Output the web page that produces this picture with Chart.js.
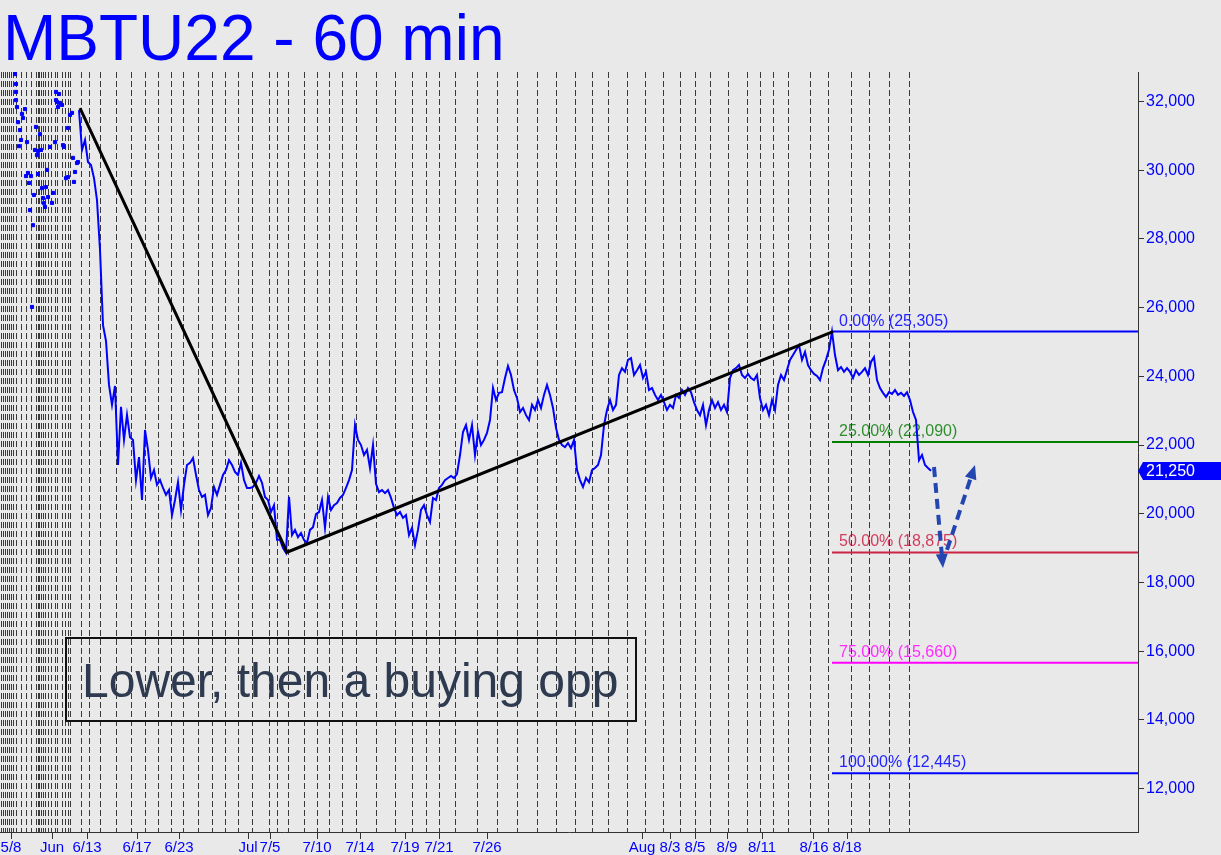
<!DOCTYPE html>
<html>
<head>
<meta charset="utf-8">
<script src="https://cdn.jsdelivr.net/npm/chart.js@4"></script>
<style>
  html, body { margin: 0; padding: 0; background: #e9e9e9; }
  canvas { display: block; }
</style>
</head>
<body>
<canvas id="chart" width="1221" height="855"></canvas>
<script>
const titleText = 'MBTU22 - 60 min';
const noteText = 'Lower, then a buying opp';

// x is counted in bar slots along the time axis
const xMax = 1138;
const xLabels = ['5/8', 'Jun', '6/13', '6/17', '6/23', 'Jul', '7/5', '7/10', '7/14', '7/19', '7/21', '7/26', 'Aug', '8/3', '8/5', '8/9', '8/11', '8/16', '8/18'];
const xLabelAt = [11, 52, 87, 137, 179, 248, 270, 317, 360, 405, 439, 487, 642, 670, 695, 727, 762, 814, 847];
const yTicks = [12000, 14000, 16000, 18000, 20000, 22000, 24000, 26000, 28000, 30000, 32000];
const sessionBreaks = [1, 3, 5, 7, 9, 11, 13, 16, 21, 26, 31, 36, 38, 39, 41, 43, 45, 48, 51, 55, 57, 62, 65, 68, 70, 81, 89, 100, 116, 131, 145, 158, 171, 183, 198, 212, 225, 238, 252, 269, 277, 288, 304, 317, 329, 342, 356, 376, 395, 412, 426, 439, 455, 477, 497, 517, 537, 556, 575, 592, 608, 627, 645, 663, 680, 695, 710, 728, 747, 760, 773, 788, 810, 828, 851, 869, 889, 909];

// thin early trading: scattered prints
const sparseX = [15, 16, 16, 16, 17, 18, 20, 21, 19, 22, 23, 25, 27, 28, 26, 29, 31, 30, 33, 32, 34, 35, 36, 37, 38, 38, 40, 41, 42, 43, 44, 45, 46, 47, 48, 50, 52, 53, 55, 56, 56, 57, 59, 60, 62, 58, 63, 64, 66, 68, 70, 72, 68, 73, 74, 75, 77, 78];
const sparsePrice = [32800, 32510, 32280, 32040, 31840, 31400, 31170, 30880, 30700, 31640, 31520, 31780, 30820, 29920, 29830, 29630, 29830, 28840, 28400, 26020, 29280, 30590, 31260, 30440, 30560, 29890, 31050, 30590, 29480, 29190, 29040, 28930, 29510, 30010, 29220, 30680, 29050, 29340, 30820, 32280, 32040, 31990, 32220, 31960, 31900, 31840, 30730, 30680, 29770, 29800, 31610, 31670, 31230, 30360, 29660, 29950, 30210, 30240];

// hourly closes from bar 79, one every 3 slots
const priceStart = 79;
const priceStep = 3;
const prices = [
  31750, 30590, 30880, 30240, 30150, 29770, 29130, 27680, 25490, 25030,
  23750, 23170, 23720, 21420, 23110, 22150, 22880, 22230, 22150, 20980,
  21650, 20400, 22440, 21860, 21040, 21270, 20840, 20980, 20750, 20550,
  20690, 19960, 20400, 20920, 20110, 20840, 21420, 21480, 21620, 21130,
  20690, 20490, 20550, 19960, 20170, 20780, 20550, 20840, 21130, 21270,
  21560, 21420, 21220, 21130, 21480, 20980, 20750, 20750, 20780, 20900,
  21100, 20900, 20490, 20400, 20050, 20250, 19240, 19240, 19000, 18860,
  20490, 19380, 19530, 19320, 19440, 19240, 19150, 19530, 19610, 19990,
  20050, 20400, 19590, 20490, 20110, 20250, 20310, 20460, 20550, 20750,
  20980, 21270, 22580, 22150, 22000, 21710, 21860, 21330, 22000, 20870,
  20630, 20690, 20600, 20690, 20460, 20170, 19960, 20050, 19880, 19960,
  19380, 19590, 19090, 19530, 20110, 20250, 19960, 19760, 20460, 20400,
  20750, 20840, 20980, 21040, 21100, 21040, 21160, 21710, 22380, 22580,
  22150, 22580, 21710, 22380, 22000, 22150, 22350, 22730, 23660, 23310,
  23520, 23540, 23950, 24300, 24040, 23600, 23370, 22960, 23080, 22870,
  22730, 23170, 23020, 23310, 23080, 23460, 23750, 23460, 23080, 22500,
  22150, 22000, 21940, 22060, 21910, 22150, 21270, 20980, 20780, 21040,
  20920, 21270, 21330, 21420, 21710, 22580, 23020, 23310, 23020, 23170,
  24040, 24240, 24130, 24480, 24530, 24040, 24180, 24330, 23950, 24130,
  23600, 23660, 23460, 23310, 23460, 23250, 23020, 23170, 23080, 23460,
  23370, 23600, 23460, 23660, 23540, 23250, 23020, 22870, 23170, 22580,
  23020, 23310, 23080, 23250, 23020, 23170, 22960, 23950, 24180, 24240,
  24330, 24040, 23950, 24070, 23950, 23890, 24040, 23370, 23020, 23170,
  22870, 23310, 23020, 23750, 24040, 23890, 24180, 24480, 24620, 24770,
  24910, 24480, 24710, 24330, 24180, 24070, 24010, 23890, 24240, 24480,
  24770, 25300, 24620, 24180, 24270, 24130, 24240, 24130, 23950, 24180,
  24040, 24130, 24240, 24040, 24420, 24560, 23890, 23660, 23520, 23400,
  23540, 23490, 23600, 23460, 23520, 23430, 23540, 23310, 22960, 22730,
  21560, 21710, 21420, 21330, 21250
];
const lastPrice = 21250;

// swing high -> low -> high
const swingX = [80, 287, 833];
const swingPrice = [31810, 18880, 25305];

const fibPct = ['0.00%', '25.00%', '50.00%', '75.00%', '100.00%'];
const fibLevels = [25305, 22090, 18875, 15660, 12445];
const fibColors = ['#0000ff', '#008000', '#cc2444', '#ff00ff', '#0000ff'];
const fibTextColors = ['#2424ff', '#2f8f2f', '#d23c5c', '#ff2cff', '#2424ff'];
const fibFromX = 832;

// forecast arrows
const arrowFromX = [934, 947];
const arrowFromPrice = [21360, 18945];
const arrowToX = [943, 975];
const arrowToPrice = [18420, 21420];

const font = '"Liberation Sans", Arial, sans-serif';

function drawArrow(c, x0, y0, x1, y1) {
  const ang = Math.atan2(y1 - y0, x1 - x0);
  const head = 14, half = 6;
  const bx = x1 - head * Math.cos(ang), by = y1 - head * Math.sin(ang);
  c.setLineDash([10, 6]);
  c.lineWidth = 4;
  c.beginPath(); c.moveTo(x0, y0); c.lineTo(bx, by); c.stroke();
  c.setLineDash([]);
  c.beginPath();
  c.moveTo(x1, y1);
  c.lineTo(bx + half * Math.sin(ang), by - half * Math.cos(ang));
  c.lineTo(bx - half * Math.sin(ang), by + half * Math.cos(ang));
  c.closePath(); c.fill();
}

const overlay = {
  id: 'overlay',
  beforeDraw(chart) {
    const c = chart.ctx;
    c.save();
    c.fillStyle = '#e9e9e9';
    c.fillRect(0, 0, chart.width, chart.height);
    c.restore();
  },
  beforeDatasetsDraw(chart) {
    const c = chart.ctx, a = chart.chartArea, x = chart.scales.x, y = chart.scales.y;
    c.save();
    c.font = '16px ' + font;
    c.textBaseline = 'alphabetic';
    fibLevels.forEach((lv, i) => {
      c.fillStyle = fibTextColors[i];
      c.fillText(fibPct[i] + ' (' + lv.toLocaleString('en-US') + ')', x.getPixelForValue(fibFromX) + 7, y.getPixelForValue(lv) - 6);
    });
    c.strokeStyle = '#3a3a3a';
    c.lineWidth = 1;
    c.setLineDash([6, 3]);
    sessionBreaks.forEach(b => {
      const px = Math.round(x.getPixelForValue(b)) + 0.5;
      c.beginPath(); c.moveTo(px, a.top); c.lineTo(px, a.bottom); c.stroke();
    });
    c.restore();
  },
  afterDraw(chart) {
    const c = chart.ctx, a = chart.chartArea, x = chart.scales.x, y = chart.scales.y;
    c.save();
    // title
    c.font = '64px ' + font;
    c.fillStyle = '#0000ff';
    c.textBaseline = 'alphabetic';
    c.fillText(titleText, 3, 60);
    // note box
    c.strokeStyle = '#111111';
    c.lineWidth = 2;
    c.strokeRect(66, 638, 570, 83);
    c.font = '48px ' + font;
    c.fillStyle = '#2e3a4f';
    c.fillText(noteText, 82, 697);
    // arrows
    c.strokeStyle = '#2346b0';
    c.fillStyle = '#2346b0';
    arrowFromX.forEach((fx, i) => {
      drawArrow(c, x.getPixelForValue(fx), y.getPixelForValue(arrowFromPrice[i]),
        x.getPixelForValue(arrowToX[i]), y.getPixelForValue(arrowToPrice[i]));
    });
    // last price tag
    const py = Math.round(y.getPixelForValue(lastPrice));
    c.fillStyle = '#0000ff';
    c.beginPath();
    c.moveTo(a.right, py);
    c.lineTo(a.right + 5, py - 9);
    c.lineTo(chart.width, py - 9);
    c.lineTo(chart.width, py + 9);
    c.lineTo(a.right + 5, py + 9);
    c.closePath(); c.fill();
    c.fillStyle = '#ffffff';
    c.font = '16px ' + font;
    c.textBaseline = 'middle';
    c.fillText(lastPrice.toLocaleString('en-US'), a.right + 8, py + 1);
    c.restore();
  }
};

const datasets = [];
fibLevels.forEach((lv, i) => {
  datasets.push({
    data: [{ x: fibFromX, y: lv }, { x: xMax, y: lv }],
    borderColor: fibColors[i], borderWidth: 2, pointRadius: 0, order: 4
  });
});
datasets.push({
  data: prices.map((p, i) => ({ x: priceStart + i * priceStep, y: p })),
  borderColor: '#0000ff', borderWidth: 2, pointRadius: 0, order: 2
});
datasets.push({
  data: sparseX.map((sx, i) => ({ x: sx, y: sparsePrice[i] })),
  showLine: false, pointStyle: 'rect', pointRadius: 2.2, pointBorderWidth: 1,
  pointBorderColor: '#0000ff', pointBackgroundColor: '#0000ff', order: 2
});
datasets.push({
  data: swingX.map((sx, i) => ({ x: sx, y: swingPrice[i] })),
  borderColor: '#000000', borderWidth: 3, pointRadius: 0, order: 1
});

new Chart(document.getElementById('chart'), {
  type: 'line',
  data: { datasets: datasets },
  options: {
    responsive: false,
    animation: false,
    devicePixelRatio: 1,
    layout: { autoPadding: false, padding: { top: 72, left: 0, right: 0, bottom: 0 } },
    plugins: { legend: { display: false }, tooltip: { enabled: false } },
    elements: { line: { tension: 0 } },
    scales: {
      x: {
        type: 'linear', min: 0, max: xMax,
        afterFit: s => { s.height = 23; s.paddingLeft = 0; s.paddingRight = 0; },
        afterBuildTicks: s => { s.ticks = xLabelAt.map(v => ({ value: v })); },
        grid: { display: true, drawOnChartArea: false, drawTicks: true, tickLength: 7, color: '#333333' },
        border: { display: true, color: '#333333' },
        ticks: {
          autoSkip: false, maxRotation: 0, minRotation: 0, padding: 0,
          color: '#0000ff', font: { family: font, size: 15 },
          callback: v => xLabels[xLabelAt.indexOf(v)]
        }
      },
      y: {
        position: 'right', min: 10735, max: 32860,
        afterFit: s => { s.width = 83; },
        afterBuildTicks: s => { s.ticks = yTicks.map(v => ({ value: v })); },
        grid: { display: true, drawOnChartArea: false, drawTicks: true, tickLength: 6, color: '#333333' },
        border: { display: true, color: '#333333' },
        ticks: {
          padding: 2,
          color: '#0000ff', font: { family: font, size: 16 },
          callback: v => v.toLocaleString('en-US')
        }
      }
    }
  },
  plugins: [overlay]
});
</script>
</body>
</html>
